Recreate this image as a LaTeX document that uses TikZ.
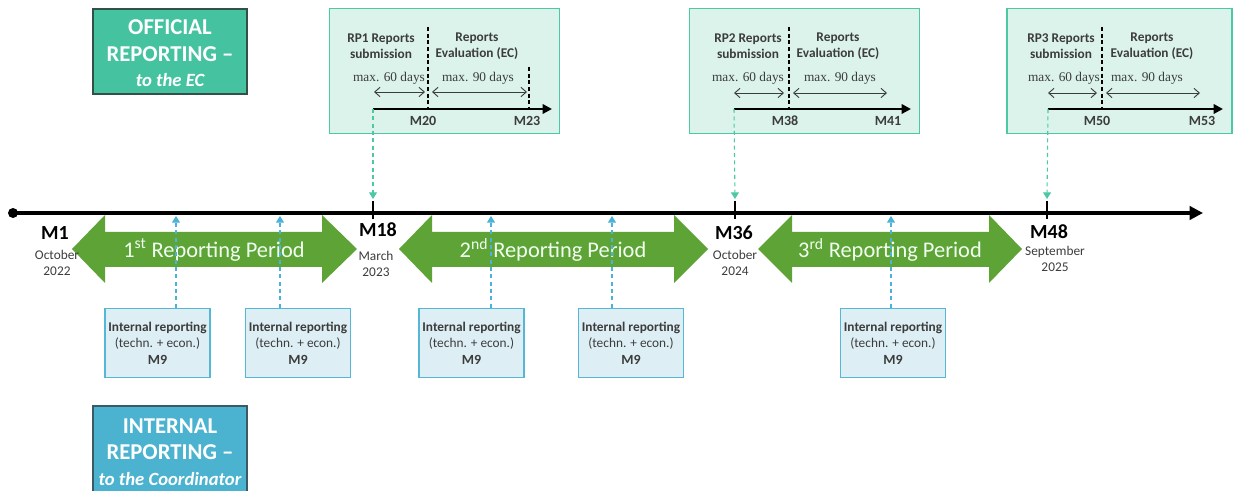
\documentclass[tikz,border=0pt]{standalone}
\usepackage{fontspec}
\setmainfont{Carlito}
\newfontfamily\maxfont{Liberation Serif}
\usetikzlibrary{arrows.meta}
\definecolor{offfill}{RGB}{69,195,160}
\definecolor{offborder}{RGB}{50,80,72}
\definecolor{intfill}{RGB}{75,179,208}
\definecolor{intborder}{RGB}{60,90,100}
\definecolor{topfill}{RGB}{220,243,236}
\definecolor{topborder}{RGB}{77,200,164}
\definecolor{smallfill}{RGB}{221,239,245}
\definecolor{smallborder}{RGB}{86,183,212}
\definecolor{arrgreen}{RGB}{94,163,54}
\definecolor{dashblue}{RGB}{75,179,216}
\definecolor{dashteal}{RGB}{77,200,164}
\definecolor{txtgray}{RGB}{60,60,60}
\tikzset{
  bigtxt/.style={text=white, align=center,
    font=\bfseries\fontsize{17}{20}\selectfont, inner sep=0pt},
  topbox/.style={draw=topborder, fill=topfill, line width=1.1pt, inner sep=0pt,
    minimum width=230*0.75pt, minimum height=125*0.75pt},
  smallbox/.style={draw=smallborder, fill=smallfill, line width=1pt, inner sep=0pt,
    minimum width=105*0.75pt, minimum height=69*0.75pt, align=center,
    font=\fontsize{10}{12.4}\selectfont, text=txtgray},
  hdr/.style={align=center, font=\bfseries\fontsize{10}{12}\selectfont, text=txtgray},
  maxlbl/.style={font=\maxfont\fontsize{10}{11}\selectfont, text=txtgray},
  mlbl/.style={font=\bfseries\fontsize{10.5}{12}\selectfont, text=txtgray},
  tllbl/.style={font=\bfseries\fontsize{15}{17}\selectfont},
  datelbl/.style={align=center, font=\fontsize{10}{12.5}\selectfont, text=txtgray},
  sep/.style={dashed, line width=0.8pt, black, dash pattern=on 3pt off 2pt},
  dbl/.style={{Straight Barb[length=4pt,width=7pt]}-{Straight Barb[length=4pt,width=7pt]}, line width=0.7pt, txtgray},
  miniaxis/.style={-{Triangle[length=7pt,width=7pt]}, line width=2.2pt},
  periodarrow/.style={fill=arrgreen, draw=none},
  periodtxt/.style={text=white!94!green, font=\fontsize{16.8}{18}\selectfont},
  upblue/.style={dashed, dash pattern=on 3pt off 2.5pt, dashblue, line width=0.8pt, -{Triangle[length=5pt,width=6pt]}},
  downteal/.style={dashed, dash pattern=on 3pt off 2.5pt, dashteal, line width=0.8pt, -{Triangle[length=5pt,width=6pt]}},
}
\begin{document}
\begin{tikzpicture}[x=0.75pt,y=-0.75pt]
\useasboundingbox (0,0) rectangle (1240,491);

% side boxes
\node[draw=offborder, fill=offfill, line width=1pt, inner sep=0pt,
  minimum width=154*0.75pt, minimum height=85*0.75pt] (official) at (170,51.5) {};
\node[bigtxt] (officialtxt) at (170,53.5)
  {OFFICIAL\\REPORTING --\\[-1pt]{\fontsize{14}{16}\selectfont\itshape to the EC}};
\fill[intfill] (93,406) rectangle (247,495);
\draw[intborder, line width=1pt] (93,495) -- (93,406) -- (247,406) -- (247,495);
\node[bigtxt] (internal) at (170,452)
  {INTERNAL\\REPORTING --\\[-1pt]{\fontsize{14}{16}\selectfont\itshape to the Coordinator}};

% timeline
\coordinate (tlstart) at (13,213);
\coordinate (tlend) at (1203,213);
\draw[line width=2.3pt, -{Triangle[length=10pt,width=10pt]}] (tlstart) -- (tlend);
\fill (tlstart) circle (5);
\foreach \x in {373,735,1047}{
  \draw[line width=2.2pt] (\x,201) -- (\x,219);
}
\coordinate (t1) at (373,199);
\coordinate (t2) at (735,199);
\coordinate (t3) at (1047,199);

% period arrows
\path[periodarrow] (72,249) -- (105,215) -- (105,232) -- (322,232) -- (322,215) -- (357,249)
  -- (322,283) -- (322,267) -- (105,267) -- (105,283) -- cycle;
\path[periodarrow] (399,249) -- (432,215) -- (432,232) -- (674,232) -- (674,215) -- (708,249)
  -- (674,283) -- (674,267) -- (432,267) -- (432,283) -- cycle;
\path[periodarrow] (758,249) -- (792,215) -- (792,232) -- (989,232) -- (989,215) -- (1022,249)
  -- (989,283) -- (989,267) -- (792,267) -- (792,283) -- cycle;
\node[periodtxt] (p1) at (214,250) {1\textsuperscript{st} Reporting Period};
\node[periodtxt] (p2) at (553,250) {2\textsuperscript{nd} Reporting Period};
\node[periodtxt] (p3) at (890,250) {3\textsuperscript{rd} Reporting Period};

% timeline labels
\node[tllbl] (m1) at (55,233) {M1};
\node[datelbl] (d1) at (57,263) {October\\2022};
\node[tllbl] (m18) at (378,230) {M18};
\node[datelbl] (d18) at (376,264) {March\\2023};
\node[tllbl] (m36) at (734,233) {M36};
\node[datelbl] (d36) at (735,263) {October\\2024};
\node[tllbl] (m48) at (1049,232) {M48};
\node[datelbl] (d48) at (1055,259) {September\\2025};

% internal reporting boxes
\foreach \x/\n in {157.5/i1,298/i2,471.5/i3,631/i4,893/i5}{
  \node[smallbox] (\n) at (\x,343) {\textbf{Internal reporting}\\(techn. + econ.)\\\textbf{\fontsize{10.5}{12.4}\selectfont M9}};
}
\foreach \n/\x in {i1/176,i2/280,i3/491,i4/612,i5/891}{
  \coordinate (\n up) at (\x,216);
  \draw[upblue] (\n.north -| \n up) -- (\n up);
}

% top boxes
\node[topbox] (rp1) at (444.5,71) {};
\node[topbox] (rp2) at (804.5,71) {};
\node[topbox, minimum width=225*0.75pt] (rp3) at (1119.5,71) {};

% box 1
\node[hdr] (rp1a) at (381,46) {RP1 Reports\\submission};
\node[hdr] (rp1b) at (477,46) {Reports\\Evaluation (EC)};
\draw[sep] (428,27) -- (428,109);
\draw[sep] (529,67) -- (529,109);
\node[maxlbl] (rp1c) at (389,78) {max. 60 days};
\node[maxlbl] (rp1d) at (478,78) {max. 90 days};
\draw[dbl] (374,92) -- (425,92);
\draw[dbl] (432,92) -- (527,92);
\coordinate (ax1s) at (373,109);
\coordinate (ax1e) at (552,109);
\draw[miniaxis] (ax1s) -- (ax1e);
\node[mlbl] (m20) at (423,121) {M20};
\node[mlbl] (m23) at (527,121) {M23};
\draw[downteal] (ax1s) -- (t1);

% box 2
\node[hdr] (rp2a) at (748,46) {RP2 Reports\\submission};
\node[hdr] (rp2b) at (838,46) {Reports\\Evaluation (EC)};
\draw[sep] (789,27) -- (789,109);
\node[maxlbl] (rp2c) at (748,78) {max. 60 days};
\node[maxlbl] (rp2d) at (840,78) {max. 90 days};
\draw[dbl] (734,93) -- (784,93);
\draw[dbl] (793,93) -- (887,93);
\coordinate (ax2s) at (734,109);
\coordinate (ax2e) at (911,109);
\draw[miniaxis] (ax2s) -- (ax2e);
\node[mlbl] (m38) at (785,121) {M38};
\node[mlbl] (m41) at (888,121) {M41};
\draw[downteal] (ax2s) -- (t2);

% box 3
\node[hdr] (rp3a) at (1061,46) {RP3 Reports\\submission};
\node[hdr] (rp3b) at (1152,46) {Reports\\Evaluation (EC)};
\draw[sep] (1102,27) -- (1102,109);
\node[maxlbl] (rp3c) at (1064,78) {max. 60 days};
\node[maxlbl] (rp3d) at (1147,78) {max. 90 days};
\draw[dbl] (1048,93) -- (1097,93);
\draw[dbl] (1106,93) -- (1200,93);
\coordinate (ax3s) at (1048,109);
\coordinate (ax3e) at (1223,109);
\draw[miniaxis] (ax3s) -- (ax3e);
\node[mlbl] (m50) at (1097,121) {M50};
\node[mlbl] (m53) at (1202,121) {M53};
\draw[downteal] (ax3s) -- (t3);
\end{tikzpicture}
\end{document}
